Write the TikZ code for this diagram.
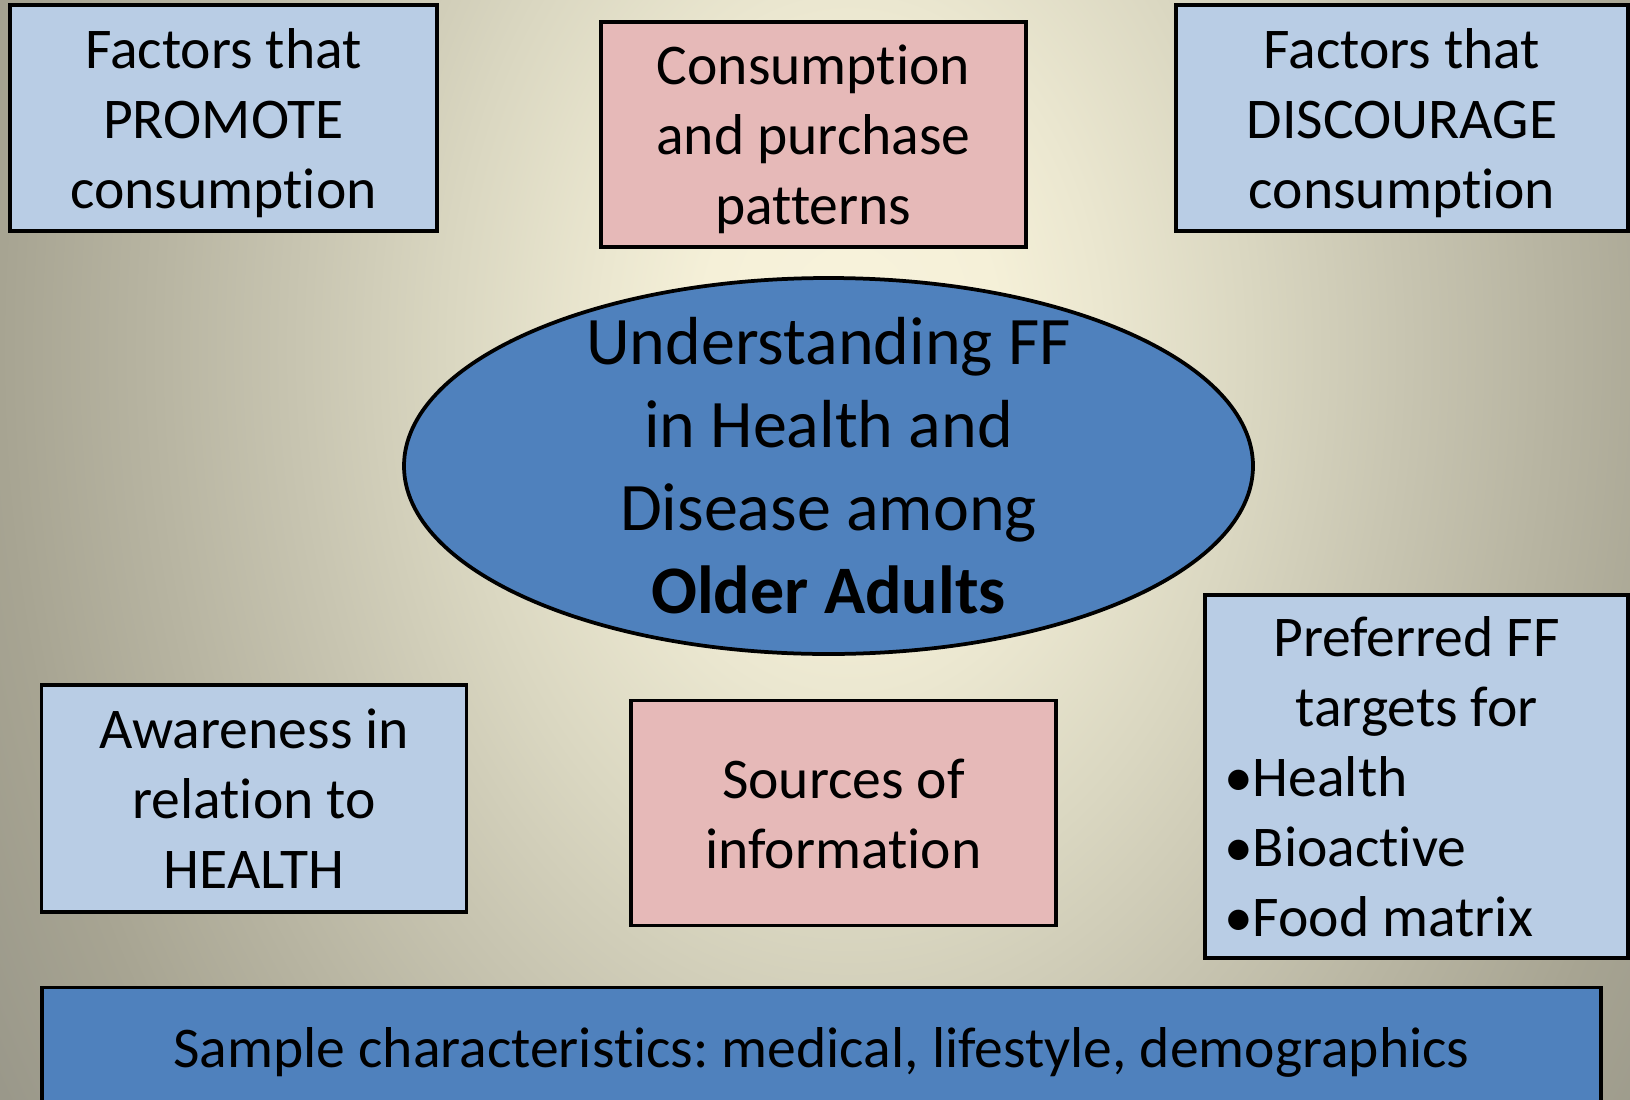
\documentclass[tikz,border=0pt]{standalone}
\usepackage{fontspec}
\setmainfont{Carlito}[Ligatures=NoCommon]
\usetikzlibrary{shapes.geometric}

\definecolor{paleblue}{HTML}{B9CDE5}
\definecolor{palerose}{HTML}{E6B9B8}
\definecolor{coreblue}{HTML}{4F81BD}
\definecolor{bgA}{HTML}{F8F3DC}
\definecolor{bgB}{HTML}{F5F0D8}
\definecolor{bgC}{HTML}{EBE7D0}
\definecolor{bgD}{HTML}{DAD7C1}
\definecolor{bgE}{HTML}{C8C5B1}
\definecolor{bgF}{HTML}{B7B4A1}
\definecolor{bgG}{HTML}{A7A492}
\definecolor{bgH}{HTML}{9A988A}

% soft cream backdrop fading to grey towards the edges
% (the inner 25bp radius is stretched over the shaded path)
\pgfdeclareradialshading{backdrop}{\pgfpoint{0bp}{0bp}}{%
  color(0bp)=(bgA); color(3.75bp)=(bgB); color(6.25bp)=(bgC);
  color(10bp)=(bgD); color(13.75bp)=(bgE); color(17.5bp)=(bgF);
  color(21.25bp)=(bgG); color(25bp)=(bgH); color(50bp)=(bgH)}

\newcommand\boxfont{\fontsize{57.6}{70}\selectfont\frenchspacing}
\newcommand\corefont{\fontsize{68}{83}\selectfont}
% fixed line height so every panel centres its lines alike
\newcommand\pstrut{\rule[-15pt]{0pt}{70pt}}

\tikzset{
  panel/.style={draw=black, line width=3.75pt, inner sep=0pt, align=center,
    font=\boxfont, text=black},
  bluepanel/.style={panel, fill=paleblue},
  rosepanel/.style={panel, fill=palerose},
}

\begin{document}
\begin{tikzpicture}[x=1pt, y=-1pt]
  \useasboundingbox (0,0) rectangle (1630,1100);
  \clip (0,0) rectangle (1630,1100);
  \shade[shading=backdrop] (-150,-1050) rectangle (1850,1750);

  % central theme
  \node[ellipse, draw=black, line width=3.75pt, fill=coreblue,
        minimum width=849pt, minimum height=376pt, inner sep=0pt]
        (core) at (828.5,466) {};
  \node[align=center, font=\corefont, inner sep=0pt] (coretext) at (core.center)
        {Understanding FF\\in Health and\\Disease among\\\textbf{Older Adults}};

  % upper row
  \node[bluepanel, minimum width=427pt, minimum height=226pt]
        (promote) at (223.5,118)
        {\pstrut Factors that\\PROMOTE\\\pstrut consumption};
  \node[rosepanel, minimum width=425pt, minimum height=225pt]
        (patterns) at (813.5,134.5)
        {\pstrut Consumption\\and purchase\\\pstrut patterns};
  \node[bluepanel, minimum width=452pt, minimum height=226pt]
        (discourage) at (1402,118)
        {\pstrut Factors that\\DISCOURAGE\\\pstrut consumption};

  % lower row
  \node[bluepanel, minimum width=425pt, minimum height=227pt]
        (awareness) at (254,798.5)
        {\pstrut Awareness in\\relation to\\\pstrut HEALTH};
  \node[rosepanel, minimum width=425pt, minimum height=225pt]
        (sources) at (843.5,813)
        {\pstrut Sources of\\\pstrut information};
  \node[bluepanel, minimum width=423pt, minimum height=363pt, align=left]
        (targets) at (1416.5,776.5)
        {\pstrut\makebox[379pt]{Preferred FF}\\
         \makebox[379pt]{targets for}\\
         \hspace*{-3pt}•Health\\
         \hspace*{-3pt}•Bioactive\\
         \pstrut\hspace*{-3pt}•Food matrix};

  % sample description bar
  \node[panel, fill=coreblue, minimum width=1559pt, minimum height=120.5pt]
        (sample) at (821.3,1047.8)
        {\pstrut Sample characteristics: medical, lifestyle, demographics};
\end{tikzpicture}
\end{document}
